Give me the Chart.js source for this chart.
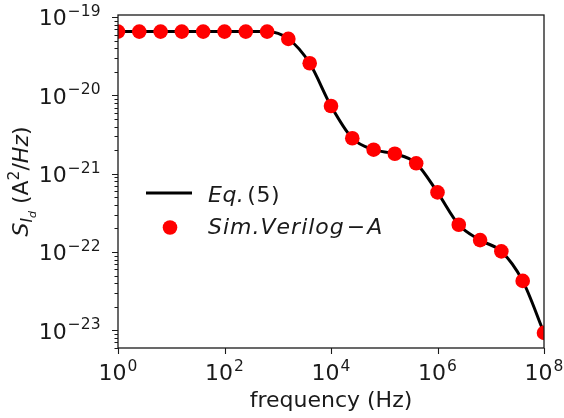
<!DOCTYPE html>
<html lang="en">
<head>
    <meta charset="UTF-8">
    <title>Drain current noise PSD</title>
    <script src="https://cdn.jsdelivr.net/npm/chart.js"></script>
    <style>
        body { margin: 0; background: #fff; }
        canvas { display: block; }
    </style>
</head>
<body>
    <canvas id="chart" width="564" height="418"></canvas>

    <script>
        // frequency points of the Verilog-A simulation (Hz)
        const freq = [1, 2.51, 6.31, 15.8, 39.8, 100, 251, 631, 1580, 3980, 1e4,
            2.51e4, 6.31e4, 1.58e5, 3.98e5, 1e6, 2.51e6, 6.31e6, 1.58e7, 3.98e7, 1e8];
        // simulated S_Id (A^2/Hz)
        const simPsd = [6.55e-20, 6.55e-20, 6.55e-20, 6.55e-20, 6.55e-20, 6.55e-20, 6.55e-20, 6.55e-20,
            5.28e-20, 2.58e-20, 7.34e-21, 2.84e-21, 2.03e-21, 1.80e-21, 1.36e-21,
            5.78e-22, 2.23e-22, 1.42e-22, 1.02e-22, 4.28e-23, 9.27e-24];
        // Eq. (5) curve, read at the same frequencies
        const eqPsd = [6.55e-20, 6.55e-20, 6.55e-20, 6.55e-20, 6.55e-20, 6.55e-20, 6.55e-20, 6.55e-20,
            5.28e-20, 2.58e-20, 7.34e-21, 2.84e-21, 2.03e-21, 1.80e-21, 1.36e-21,
            5.78e-22, 2.23e-22, 1.42e-22, 1.02e-22, 4.28e-23, 9.27e-24];

        const xTickExps = [0, 2, 4, 6, 8];
        const yTickExps = [-23, -22, -21, -20, -19];
        const xLabel = 'frequency (Hz)';
        const legendLine = 'Eq. (5)';
        const legendDots = 'Sim. Verilog − A';

        const FONT = '"DejaVu Sans", sans-serif';
        const MINUS = '\u2212';

        function drawPow(ctx, exp, x, y, align) {
            // "10" with superscript exponent, x is anchor (center or right)
            const base = '10';
            const sup = String(exp).replace('-', MINUS);
            ctx.font = '22px ' + FONT;
            const wb = ctx.measureText(base).width;
            ctx.font = '15.5px ' + FONT;
            const ws = ctx.measureText(sup).width + (exp < 0 ? 1.5 : 0);
            const total = wb + 1 + ws;
            let x0 = align === 'center' ? x - total / 2 : x - total;
            ctx.textAlign = 'left';
            ctx.textBaseline = 'alphabetic';
            ctx.font = '22px ' + FONT;
            ctx.fillText(base, x0, y);
            ctx.font = '15.5px ' + FONT;
            ctx.fillText(sup, x0 + wb + 1, y - 9.5);
        }

        // pieces of text laid out one after another; gap = extra letter spacing
        function runs(ctx, pieces, x, y) {
            pieces.forEach(p => {
                ctx.font = p.f + ' ' + FONT;
                x += p.pre || 0;
                for (const ch of p.t) {
                    ctx.fillText(ch, x, y);
                    x += ctx.measureText(ch).width + (p.gap || 0);
                }
            });
        }

        const decor = {
            id: 'decor',
            afterDatasetsDraw(chart) {
                const { ctx, chartArea: a, scales } = chart;
                const xs = scales.x, ys = scales.y;
                ctx.save();
                ctx.fillStyle = '#1a1a1a';
                ctx.strokeStyle = '#1a1a1a';

                // spines
                ctx.lineWidth = 1.3;
                ctx.strokeRect(a.left, a.top, a.right - a.left, a.bottom - a.top);

                // y ticks: majors and minors
                ctx.lineWidth = 1.1;
                ctx.beginPath();
                for (let e = yTickExps[0] - 1; e <= yTickExps[yTickExps.length - 1]; e++) {
                    for (let m = 1; m <= 9; m++) {
                        const v = m * Math.pow(10, e);
                        if (v < ys.min || v > ys.max) continue;
                        const py = Math.round(ys.getPixelForValue(v)) + 0.5;
                        const len = m === 1 ? 6 : 3.5;
                        ctx.moveTo(a.left - len, py);
                        ctx.lineTo(a.left, py);
                    }
                }
                // x ticks
                xTickExps.forEach(e => {
                    const px = Math.round(xs.getPixelForValue(Math.pow(10, e))) + 0.5;
                    ctx.moveTo(px, a.bottom);
                    ctx.lineTo(px, a.bottom + 6);
                });
                ctx.stroke();

                // tick labels
                yTickExps.forEach(e => {
                    const py = ys.getPixelForValue(Math.pow(10, e));
                    drawPow(ctx, e, 102, py + 8.3, 'right');
                });
                xTickExps.forEach(e => {
                    const px = xs.getPixelForValue(Math.pow(10, e));
                    drawPow(ctx, e, px, a.bottom + 32, 'center');
                });

                // x axis title
                ctx.font = '22px ' + FONT;
                ctx.textAlign = 'center';
                ctx.fillText(xLabel, (a.left + a.right) / 2, 407);

                // y axis title, composed from pieces
                const parts = [
                    { t: 'S', f: 'italic 22px', dy: 0 },
                    { t: 'I', f: 'italic 15.5px', dy: 4 },
                    { t: 'd', f: 'italic 11px', dy: 7.5 },
                    { t: ' (A', f: '22px', dy: 0 },
                    { t: '2', f: '15.5px', dy: -9 },
                    { t: '/', f: '22px', dy: 0 },
                    { t: 'Hz', f: 'italic 22px', dy: 0 },
                    { t: ')', f: '22px', dy: 0 }
                ];
                let tw = 0;
                parts.forEach(p => { ctx.font = p.f + ' ' + FONT; p.w = ctx.measureText(p.t).width; tw += p.w; });
                ctx.translate(28, (a.top + a.bottom) / 2);
                ctx.rotate(-Math.PI / 2);
                ctx.textAlign = 'left';
                let cx = -tw / 2;
                parts.forEach(p => {
                    ctx.font = p.f + ' ' + FONT;
                    ctx.fillText(p.t, cx, p.dy);
                    cx += p.w;
                });
                ctx.restore();

                // legend
                ctx.save();
                ctx.strokeStyle = '#000';
                ctx.lineWidth = 3;
                ctx.beginPath();
                ctx.moveTo(146, 193);
                ctx.lineTo(192, 193);
                ctx.stroke();
                ctx.fillStyle = '#ff0000';
                ctx.beginPath();
                ctx.arc(170, 227.5, 7.3, 0, Math.PI * 2);
                ctx.fill();

                ctx.fillStyle = '#1a1a1a';
                ctx.textAlign = 'left';
                runs(ctx, [
                    { t: 'Eq.', f: 'italic 22px', gap: 0.5 },
                    { t: '(5)', f: '22px', pre: 3, gap: 0.5 }
                ], 208, 201.5);
                runs(ctx, [
                    { t: 'Sim.', f: 'italic 22px', gap: 1 },
                    { t: 'Verilog', f: 'italic 22px', gap: 1 },
                    { t: MINUS, f: '22px', pre: 2 },
                    { t: 'A', f: 'italic 22px', pre: 2 }
                ], 208, 234);
                ctx.restore();
            }
        };

        const ctx = document.getElementById('chart').getContext('2d');

        const chart = new Chart(ctx, {
            data: {
                datasets: [{
                    type: 'scatter',
                    label: legendDots,
                    data: freq.map((f, i) => ({ x: f, y: simPsd[i] })),
                    backgroundColor: '#ff0000',
                    borderWidth: 0,
                    pointRadius: 7.3,
                    order: 0
                }, {
                    type: 'line',
                    label: legendLine,
                    data: freq.map((f, i) => ({ x: f, y: eqPsd[i] })),
                    borderColor: '#000000',
                    borderWidth: 3,
                    pointRadius: 0,
                    cubicInterpolationMode: 'monotone',
                    fill: false,
                    order: 1
                }]
            },
            options: {
                responsive: false,
                animation: false,
                layout: { padding: { top: 15, right: 20, left: 0, bottom: 0 } },
                scales: {
                    x: {
                        type: 'logarithmic',
                        position: 'bottom',
                        min: 1,
                        max: 1e8,
                        ticks: { display: false },
                        grid: { display: false },
                        border: { display: false },
                        afterFit: s => { s.height = 70; }
                    },
                    y: {
                        type: 'logarithmic',
                        position: 'left',
                        min: Math.pow(10, -23.226),
                        max: Math.pow(10, -18.972),
                        ticks: { display: false },
                        grid: { display: false },
                        border: { display: false },
                        afterFit: s => { s.width = 118; }
                    }
                },
                plugins: {
                    legend: { display: false },
                    tooltip: { enabled: false }
                }
            },
            plugins: [decor]
        });
    </script>
</body>
</html>
